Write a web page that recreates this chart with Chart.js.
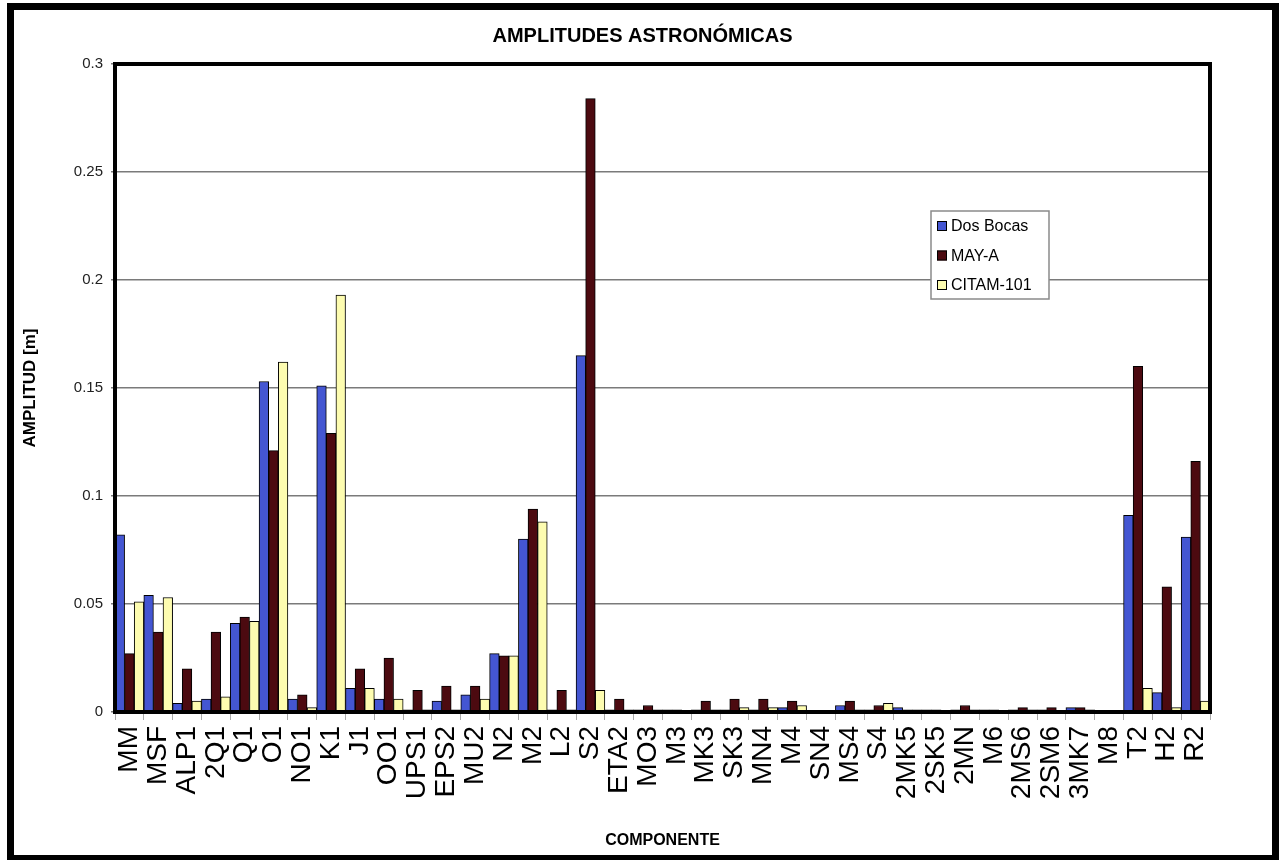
<!DOCTYPE html>
<html>
<head>
<meta charset="utf-8">
<title>Amplitudes astronómicas</title>
<script src="https://cdn.jsdelivr.net/npm/chart.js@4.4.0/dist/chart.umd.min.js"></script>
<style>
    body { margin: 0; background: #fff; }
    canvas { display: block; }
</style>
</head>
<body>
<canvas id="chartCanvas" width="1281" height="860"></canvas>
<script>
const componentes = ["MM", "MSF", "ALP1", "2Q1", "Q1", "O1", "NO1", "K1", "J1", "OO1",
    "UPS1", "EPS2", "MU2", "N2", "M2", "L2", "S2", "ETA2", "MO3", "M3",
    "MK3", "SK3", "MN4", "M4", "SN4", "MS4", "S4", "2MK5", "2SK5", "2MN",
    "M6", "2MS6", "2SM6", "3MK7", "M8", "T2", "H2", "R2"];

const dosBocas = [0.082, 0.054, 0.004, 0.006, 0.041, 0.153, 0.006, 0.151, 0.011, 0.006,
    0.001, 0.005, 0.008, 0.027, 0.080, 0.001, 0.165, 0.001, 0.001, 0.001,
    0.001, 0.001, 0.001, 0.002, 0.0005, 0.003, 0.001, 0.002, 0.001, 0.001,
    0.001, 0.001, 0.001, 0.002, 0.0005, 0.091, 0.009, 0.081];

const mayA = [0.027, 0.037, 0.020, 0.037, 0.044, 0.121, 0.008, 0.129, 0.020, 0.025,
    0.010, 0.012, 0.012, 0.026, 0.094, 0.010, 0.284, 0.006, 0.003, 0.001,
    0.005, 0.006, 0.006, 0.005, 0.0005, 0.005, 0.003, 0.001, 0.001, 0.003,
    0.001, 0.002, 0.002, 0.002, 0.0005, 0.160, 0.058, 0.116];

const citam101 = [0.051, 0.053, 0.005, 0.007, 0.042, 0.162, 0.002, 0.193, 0.011, 0.006,
    0.001, 0.001, 0.006, 0.026, 0.088, 0.001, 0.010, 0.001, 0.001, 0.0005,
    0.001, 0.002, 0.002, 0.003, 0.0005, 0.001, 0.004, 0.001, 0.0005, 0.001,
    0.0005, 0.001, 0.0005, 0.001, 0.0005, 0.011, 0.002, 0.005];

const seriesNames = ["Dos Bocas", "MAY-A", "CITAM-101"];
const seriesColors = ["#4456d2", "#4c0a10", "#fdfcb0"];

const fontFamily = "'Liberation Sans', Arial, sans-serif";

// white page, outer frame and the heavy plot-area border
const framePlugin = {
    id: "frame",
    beforeDraw(chart) {
        const ctx = chart.ctx;
        ctx.save();
        ctx.fillStyle = "#fff";
        ctx.fillRect(0, 0, chart.width, chart.height);
        ctx.restore();
    },
    afterDraw(chart) {
        const ctx = chart.ctx;
        const a = chart.chartArea;
        ctx.save();
        ctx.strokeStyle = "#000";
        ctx.lineWidth = 4;
        ctx.strokeRect(a.left, a.top, a.right - a.left, a.bottom - a.top);
        ctx.lineWidth = 7;
        ctx.strokeRect(10.5, 6.5, 1265, 852);
        ctx.restore();
    }
};

// Excel style legend box sitting inside the plot area
const boxLegend = {
    id: "boxLegend",
    afterDraw(chart) {
        const ctx = chart.ctx;
        const x = 931, y = 211, w = 118, h = 88;
        ctx.save();
        ctx.fillStyle = "#fff";
        ctx.fillRect(x, y, w, h);
        ctx.strokeStyle = "#8a8a8a";
        ctx.lineWidth = 1.5;
        ctx.strokeRect(x, y, w, h);
        ctx.font = "16px " + fontFamily;
        ctx.textBaseline = "middle";
        chart.data.datasets.forEach((ds, i) => {
            const cy = y + 15 + i * 29.5;
            ctx.fillStyle = ds.backgroundColor;
            ctx.fillRect(x + 6, cy - 5, 10, 10);
            ctx.strokeStyle = "#000";
            ctx.lineWidth = 1;
            ctx.strokeRect(x + 6.5, cy - 4.5, 9, 9);
            ctx.fillStyle = "#000";
            ctx.fillText(ds.label, x + 20, cy + 1);
        });
        ctx.restore();
    }
};

const seriesData = [dosBocas, mayA, citam101];

const ctx = document.getElementById("chartCanvas").getContext("2d");
new Chart(ctx, {
    type: "bar",
    data: {
        labels: componentes,
        datasets: seriesData.map((d, i) => ({
            label: seriesNames[i],
            data: d,
            backgroundColor: seriesColors[i],
            borderColor: "#000",
            borderWidth: 1,
            barPercentage: 1.0,
            categoryPercentage: 1.0
        }))
    },
    options: {
        responsive: false,
        animation: false,
        devicePixelRatio: 1,
        layout: { padding: { left: 14, right: 10, top: 0, bottom: 0 } },
        plugins: {
            legend: { display: false },
            tooltip: { enabled: false },
            title: {
                display: true,
                text: "AMPLITUDES ASTRONÓMICAS",
                color: "#000",
                font: { family: fontFamily, size: 20, weight: "bold" },
                padding: { top: 24, bottom: 16 }
            }
        },
        scales: {
            x: {
                grid: {
                    offset: true,
                    drawOnChartArea: false,
                    drawTicks: true,
                    tickLength: 8,
                    color: "#aaa"
                },
                border: { color: "#000", width: 4 },
                ticks: {
                    autoSkip: false,
                    maxRotation: 90,
                    minRotation: 90,
                    padding: 6,
                    color: "#000",
                    font: { family: fontFamily, size: 28 }
                },
                title: {
                    display: true,
                    text: "COMPONENTE",
                    color: "#000",
                    font: { family: fontFamily, size: 16, weight: "bold" },
                    padding: { top: 0, bottom: 10 }
                },
                afterFit(scale) { scale.height = 148; }
            },
            y: {
                min: 0,
                max: 0.3,
                ticks: {
                    stepSize: 0.05,
                    padding: 8,
                    color: "#222",
                    font: { family: fontFamily, size: 15 },
                    callback: v => String(+v.toFixed(2))
                },
                grid: {
                    color: "#7a7a7a",
                    lineWidth: 1.5,
                    tickLength: 4
                },
                border: { color: "#000", width: 4 },
                title: {
                    display: true,
                    text: "AMPLITUD [m]",
                    color: "#000",
                    font: { family: fontFamily, size: 17, weight: "bold" },
                    padding: { top: 6, bottom: 0 }
                },
                afterFit(scale) { scale.width = 101; }
            },
            // empty right-hand axis, only reserves the white margin right of the plot
            yRight: {
                position: "right",
                grid: { display: false },
                ticks: { display: false },
                border: { display: false },
                afterFit(scale) { scale.width = 61; }
            }
        }
    },
    plugins: [framePlugin, boxLegend]
});
</script>
</body>
</html>
